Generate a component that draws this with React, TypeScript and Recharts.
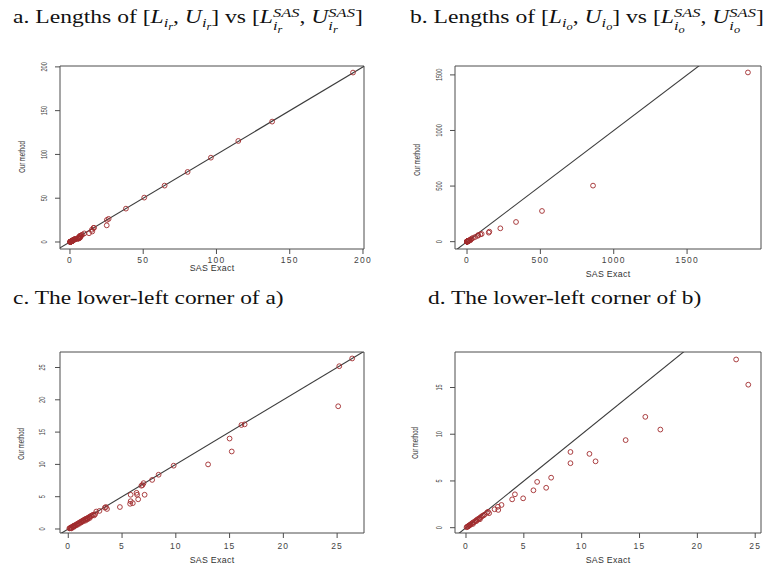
import React from "react";
import { ScatterChart, Scatter, XAxis, YAxis, ReferenceLine, ReferenceArea } from "recharts";

// interval lengths, subset i_r (panels a and c)
const rSasExact = [
  193.2, 138, 114.9, 96.2, 80.3, 64.6, 50.7, 38.2,
  26.4, 25.2, 25.1, 16.4, 16.1, 15.0, 15.2, 13.0, 9.8, 8.4, 7.8, 7.0, 6.8, 6.9,
  7.1, 6.4, 6.5, 6.35, 5.8, 5.8, 6.0, 5.75, 4.8, 3.5, 3.6, 3.4,
  2.9, 2.6, 2.5, 2.3, 2.2, 2.1, 2.0, 1.9, 1.8, 1.7, 1.6, 1.5, 1.4, 1.3, 1.2, 1.1,
  1.0, 0.9, 0.8, 0.7, 0.6, 0.5, 0.45, 0.4, 0.3, 0.25, 0.2, 0.15, 0.1, 0.3, 0.5,
  0.8, 1.2, 1.6, 2.0, 2.4, 0.6, 1.0, 1.4, 1.8,
];
const rOurMethod = [
  193.5, 137.5, 115.4, 96.3, 80, 64.4, 50.7, 38.1,
  26.4, 25.2, 19.0, 16.2, 16.1, 14.0, 12.0, 10.0, 9.8, 8.4, 7.6, 7.1, 6.7, 6.8,
  5.3, 5.3, 4.6, 5.6, 5.3, 4.3, 4.0, 3.9, 3.4, 3.4, 3.1, 3.3,
  2.8, 2.7, 2.3, 2.2, 2.1, 2.0, 1.9, 1.8, 1.7, 1.6, 1.55, 1.45, 1.35, 1.25, 1.15, 1.05,
  0.95, 0.85, 0.75, 0.65, 0.55, 0.5, 0.4, 0.35, 0.3, 0.2, 0.15, 0.1, 0.1, 0.1, 0.3,
  0.6, 1.0, 1.3, 1.7, 2.1, 0.45, 0.8, 1.2, 1.5,
];

// interval lengths, subset i_o (panels b and d)
const oSasExact = [
  1915, 859, 511, 334, 227, 152, 148, 91, 72, 100, 77, 55, 40, 30,
  23.35, 24.4, 15.5, 16.8, 13.8, 9.03, 10.67, 11.2, 9.03, 7.36, 6.15, 6.93, 5.83,
  4.94, 4.23, 3.99, 3.07, 2.79, 2.76, 2.47, 1.81, 1.9, 2.0,
  1.6, 1.5, 1.4, 1.3, 1.2, 1.1, 1.0, 0.9, 0.8, 0.7, 0.6, 0.5, 0.4, 0.35, 0.3, 0.25,
  0.2, 0.15, 0.1, 0.05, 1.2, 0.9, 0.6,
];
const oOurMethod = [
  1522, 504, 276, 177, 120, 90, 81, 66, 52, 69, 60, 42, 33, 26,
  18.0, 15.3, 11.86, 10.5, 9.37, 8.1, 7.9, 7.1, 6.9, 5.35, 4.9, 4.27, 4.0,
  3.14, 3.57, 3.03, 2.43, 1.9, 2.24, 1.97, 1.6, 1.7, 1.55,
  1.4, 1.3, 1.25, 1.15, 1.05, 0.95, 0.9, 0.8, 0.7, 0.6, 0.55, 0.45, 0.35, 0.3, 0.25, 0.2,
  0.18, 0.12, 0.08, 0.05, 0.9, 0.7, 0.4,
];

const ticksA = [0, 50, 100, 150, 200];
const ticksB = [0, 500, 1000, 1500];
const ticksC = [0, 5, 10, 15, 20, 25];
const ticksDy = [0, 5, 10, 15];

const SANS = '"Liberation Sans", Arial, sans-serif';
const SERIF = '"Liberation Serif", "Times New Roman", serif';
const AXIS = "#4d4d4d";
const RING = "#a02a2c";

type Pt = { x: number; y: number };

function pairs(xs: number[], ys: number[], xMax: number, yMax: number): Pt[] {
  return xs.map((x, i) => ({ x, y: ys[i] })).filter((p) => p.x <= xMax && p.y <= yMax);
}

const Ring = (props: any) => (
  <circle cx={props.cx} cy={props.cy} r={2.4} fill="none" stroke={RING} strokeWidth={0.9} />
);

const RotTick = (props: any) => {
  const { x, y, payload } = props;
  return (
    <g transform={`translate(${x},${y}) rotate(-90) scale(0.8,1.2)`}>
      <text x={0} y={0} textAnchor="middle" dominantBaseline="central" fontSize={7} fontFamily={SANS} fill="#444">
        {payload.value}
      </text>
    </g>
  );
};

type PanelProps = {
  frame: { left: number; top: number; width: number; height: number };
  box: { x0: number; y0: number; x1: number; y1: number };
  xDomain: [number, number];
  yDomain: [number, number];
  xTicks: number[];
  yTicks: number[];
  data: Pt[];
  xTickMargin: number;
  yTickMargin: number;
};

function Panel({ frame, box, xDomain, yDomain, xTicks, yTicks, data, xTickMargin, yTickMargin }: PanelProps) {
  const margin = { top: box.y0 - frame.top, right: frame.left + frame.width - box.x1, left: 0, bottom: 0 };
  return (
    <div style={{ position: "absolute", left: frame.left, top: frame.top }}>
      <ScatterChart width={frame.width} height={frame.height} margin={margin}>
        <XAxis
          type="number"
          dataKey="x"
          domain={xDomain}
          ticks={xTicks}
          allowDataOverflow
          interval={0}
          height={frame.top + frame.height - box.y1}
          axisLine={false}
          tickSize={5}
          tickMargin={xTickMargin}
          tickLine={{ stroke: AXIS }}
          tick={{ fontSize: 8.5, fontFamily: SANS, fill: "#444", letterSpacing: 1.2 }}
        />
        <YAxis
          type="number"
          dataKey="y"
          domain={yDomain}
          ticks={yTicks}
          allowDataOverflow
          interval={0}
          width={box.x0 - frame.left}
          axisLine={false}
          tickSize={5}
          tickMargin={yTickMargin}
          tickLine={{ stroke: AXIS }}
          tick={<RotTick />}
        />
        <ReferenceArea x1={xDomain[0]} x2={xDomain[1]} y1={yDomain[0]} y2={yDomain[1]} fill="none" stroke={AXIS} strokeWidth={1} />
        <ReferenceLine
          segment={[{ x: -5000, y: -5000 }, { x: 5000, y: 5000 }]}
          stroke="#3c3c3c"
          strokeWidth={1.1}
          ifOverflow="hidden"
        />
        <Scatter data={data} shape={Ring} isAnimationActive={false} />
      </ScatterChart>
    </div>
  );
}

const subSub: React.CSSProperties = { fontSize: "0.75em", verticalAlign: "-0.3em" };

const SubI = ({ s }: { s: string }) => (
  <span style={{ fontSize: "0.7em", verticalAlign: "-0.3em", fontStyle: "italic" }}>
    i<span style={subSub}>{s}</span>
  </span>
);

const SasI = ({ s }: { s: string }) => (
  <span
    style={{
      display: "inline-flex",
      flexDirection: "column",
      fontSize: "0.7em",
      lineHeight: 1.05,
      verticalAlign: "0.5em",
      fontStyle: "italic",
    }}
  >
    <span>SAS</span>
    <span>
      i<span style={subSub}>{s}</span>
    </span>
  </span>
);

const titleBase: React.CSSProperties = {
  position: "absolute",
  fontFamily: SERIF,
  fontSize: 18,
  whiteSpace: "nowrap",
  transform: "scaleX(1.3)",
  transformOrigin: "left center",
  color: "#111",
  lineHeight: "22px",
};

function LengthTitle({ tag, s, left, top }: { tag: string; s: string; left: number; top: number }) {
  return (
    <div style={{ ...titleBase, left, top, transform: "scaleX(1.31)" }}>
      {tag}. Lengths of [<i>L</i>
      <SubI s={s} />, <i>U</i>
      <SubI s={s} />] vs [<i>L</i>
      <SasI s={s} />, <i>U</i>
      <SasI s={s} />]
    </div>
  );
}

const axisTitles = [
  { x: 212, y: 268, rot: false },
  { x: 608, y: 274, rot: false },
  { x: 212, y: 560, rot: false },
  { x: 608, y: 560, rot: false },
  { x: 22, y: 157, rot: true },
  { x: 417, y: 160, rot: true },
  { x: 21, y: 444, rot: true },
  { x: 415, y: 443, rot: true },
];

export default function App() {
  return (
    <div style={{ position: "absolute", left: 0, top: 0, width: 764, height: 572, background: "#fff" }}>
      <LengthTitle tag="a" s="r" left={13} top={6} />
      <LengthTitle tag="b" s="o" left={410} top={6} />
      <div style={{ ...titleBase, left: 13, top: 287 }}>c. The lower-left corner of a)</div>
      <div style={{ ...titleBase, left: 428, top: 287 }}>d. The lower-left corner of b)</div>

      <Panel
        frame={{ left: 0, top: 40, width: 382, height: 240 }}
        box={{ x0: 60, y0: 66, x1: 364, y1: 249 }}
        xDomain={[-6.8, 200.7]}
        yDomain={[-8, 201]}
        xTicks={ticksA}
        yTicks={ticksA}
        data={pairs(rSasExact, rOurMethod, 200.7, 201)}
        xTickMargin={2.5}
        yTickMargin={10}
      />
      <Panel
        frame={{ left: 382, top: 40, width: 382, height: 240 }}
        box={{ x0: 455, y0: 66, x1: 761, y1: 249 }}
        xDomain={[-82, 2004]}
        yDomain={[-66, 1580]}
        xTicks={ticksB}
        yTicks={ticksB}
        data={pairs(oSasExact, oOurMethod, 2004, 1580)}
        xTickMargin={2.5}
        yTickMargin={10}
      />
      <Panel
        frame={{ left: 0, top: 330, width: 382, height: 242 }}
        box={{ x0: 60, y0: 352, x1: 364, y1: 533 }}
        xDomain={[-0.77, 27.5]}
        yDomain={[-0.62, 27.4]}
        xTicks={ticksC}
        yTicks={ticksC}
        data={pairs(rSasExact, rOurMethod, 27.5, 27.4)}
        xTickMargin={5}
        yTickMargin={12}
      />
      <Panel
        frame={{ left: 382, top: 330, width: 382, height: 242 }}
        box={{ x0: 455, y0: 352, x1: 761, y1: 533 }}
        xDomain={[-0.95, 25.5]}
        yDomain={[-0.57, 18.8]}
        xTicks={ticksC}
        yTicks={ticksDy}
        data={pairs(oSasExact, oOurMethod, 25.5, 18.8)}
        xTickMargin={5}
        yTickMargin={10}
      />

      <svg width={764} height={572} style={{ position: "absolute", left: 0, top: 0, pointerEvents: "none" }}>
        {axisTitles.map((t, i) => (
          <g key={i} transform={t.rot ? `translate(${t.x},${t.y}) rotate(-90) scale(0.8,1.2)` : `translate(${t.x},${t.y})`}>
            <text
              x={0}
              y={0}
              textAnchor="middle"
              dominantBaseline="central"
              fontFamily={SANS}
              fontSize={t.rot ? 7.5 : 8.8}
              letterSpacing={t.rot ? 0 : 0.3}
              fill="#333"
            >
              {t.rot ? "Our method" : "SAS Exact"}
            </text>
          </g>
        ))}
      </svg>
    </div>
  );
}
